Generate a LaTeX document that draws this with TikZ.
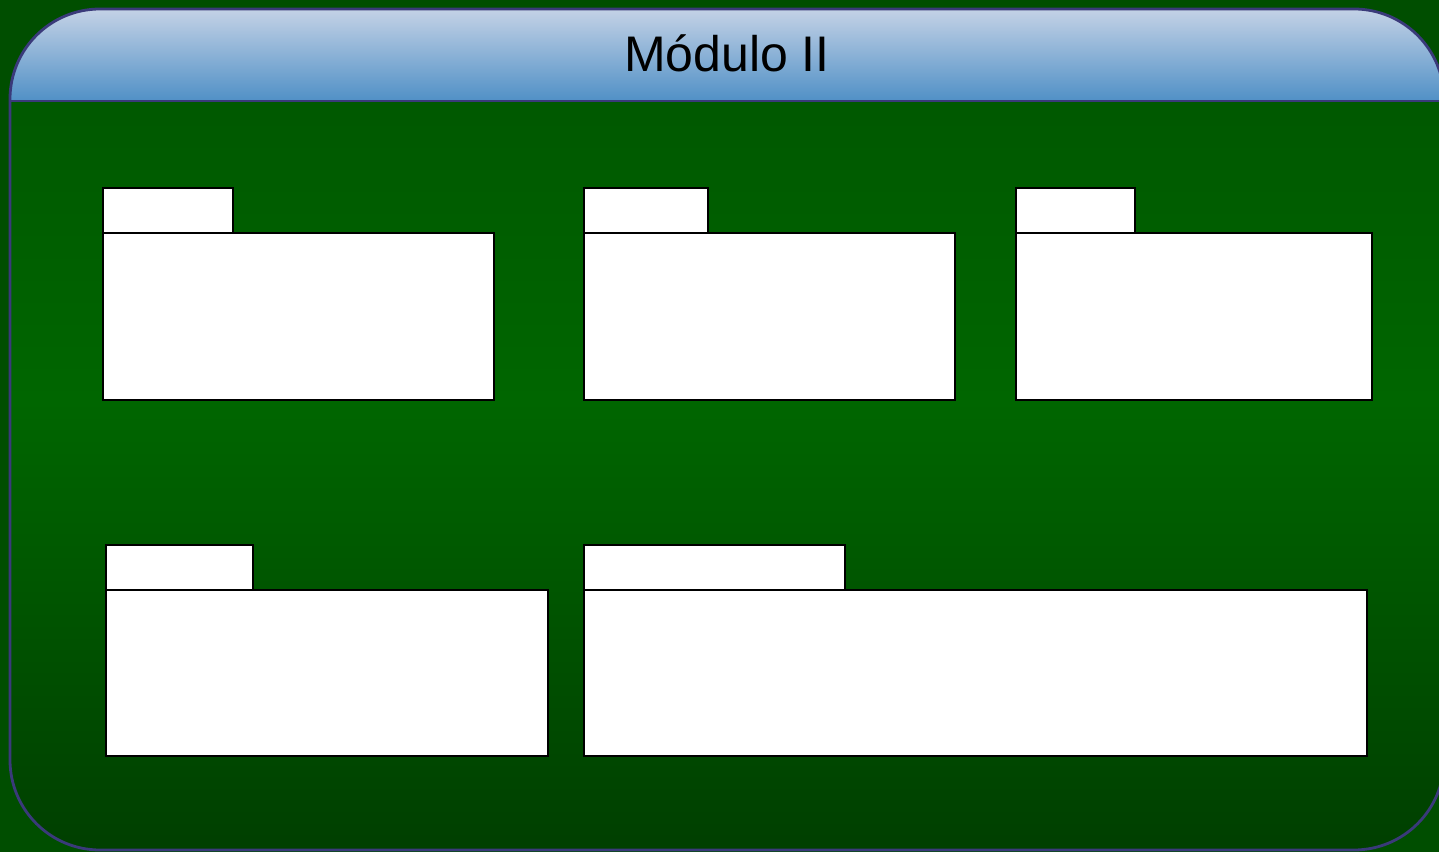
\documentclass[tikz,border=0pt]{standalone}
\usepackage{fontspec}
\setmainfont{Liberation Sans}
\definecolor{outbg}{HTML}{004E00}
\definecolor{frameline}{HTML}{3A3A7A}
\definecolor{gtop}{HTML}{005800}
\definecolor{gmid}{HTML}{006600}
\definecolor{gbot}{HTML}{003F00}
\definecolor{htop}{HTML}{C4D2E6}
\definecolor{hbot}{HTML}{5090C6}
\tikzset{
  pkgpart/.style={draw=black, fill=white, line width=2.8pt, inner sep=0pt, outer sep=0pt, anchor=south west},
}
\begin{document}
\begin{tikzpicture}[x=1pt,y=1pt]
\useasboundingbox (0,0) rectangle (1439,852);
\clip (0,0) rectangle (1439,852);
\fill[outbg] (0,0) rectangle (1439,852);
% frame body
\begin{scope}
\clip[rounded corners=90pt] (10,2) rectangle (1444,843);
\shade[top color=gtop, bottom color=gmid] (0,450) rectangle (1450,760);
\shade[top color=gmid, bottom color=gbot] (0,0) rectangle (1450,451);
\end{scope}
% header
\shade[top color=htop, bottom color=hbot] (10,751) -- (10,753) arc[start angle=180,end angle=90,radius=90] -- (1354,843) arc[start angle=90,end angle=0,radius=90] -- (1444,751) -- cycle;
\draw[frameline, line width=2.8pt, rounded corners=90pt] (10,2) rectangle (1444,843);
\draw[frameline, line width=2.8pt] (10,751) -- (1444,751);
\node (title) at (727,799) {\fontsize{50}{60}\selectfont Módulo II};
% packages row 1
\node[pkgpart, minimum width=130pt, minimum height=45pt] (t1) at (103,619) {};
\node[pkgpart, minimum width=391pt, minimum height=167pt] (b1) at (103,452) {};
\node[pkgpart, minimum width=124pt, minimum height=45pt] (t2) at (584,619) {};
\node[pkgpart, minimum width=371pt, minimum height=167pt] (b2) at (584,452) {};
\node[pkgpart, minimum width=119pt, minimum height=45pt] (t3) at (1016,619) {};
\node[pkgpart, minimum width=356pt, minimum height=167pt] (b3) at (1016,452) {};
% packages row 2
\node[pkgpart, minimum width=147pt, minimum height=45pt] (t4) at (106,262) {};
\node[pkgpart, minimum width=442pt, minimum height=166pt] (b4) at (106,96) {};
\node[pkgpart, minimum width=261pt, minimum height=45pt] (t5) at (584,262) {};
\node[pkgpart, minimum width=783pt, minimum height=166pt] (b5) at (584,96) {};
\end{tikzpicture}
\end{document}
